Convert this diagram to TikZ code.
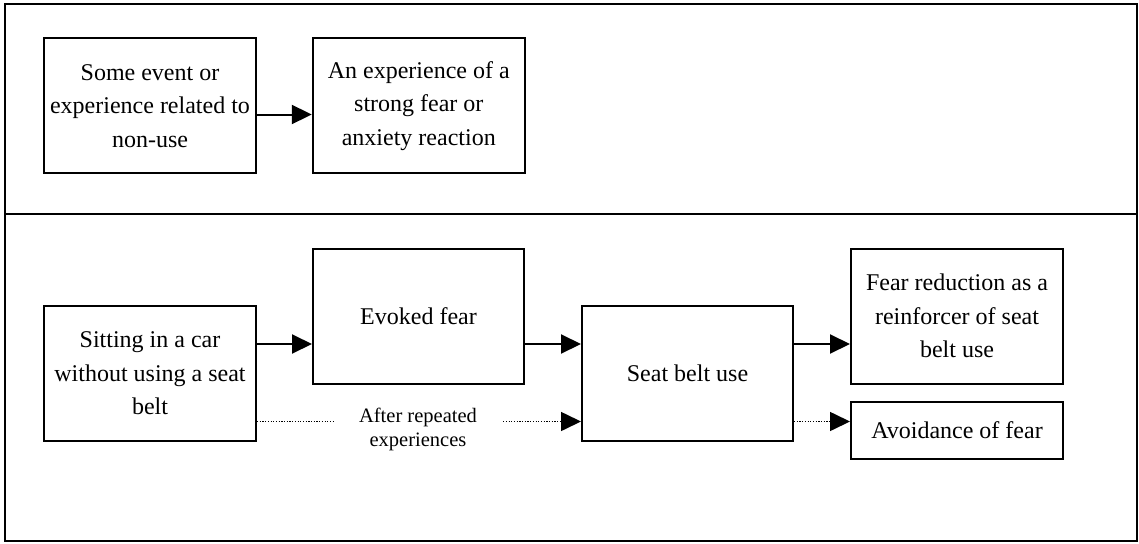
\documentclass[tikz,border=0pt]{standalone}
\usepackage{fontspec}
\setmainfont{Liberation Serif}
\usetikzlibrary{arrows.meta}

\tikzset{
  frameline/.style={line width=2pt},
  stagebox/.style={draw, line width=2pt, align=center, inner sep=0pt,
    font=\fontsize{24}{33.5}\selectfont, minimum width=212pt},
  tallbox/.style={stagebox, minimum height=135pt},
  flatbox/.style={stagebox, minimum height=57pt},
  steparrow/.style={line width=2pt, -{Triangle[length=20pt,width=19pt]}},
  laterline/.style={line width=1.6pt, dash pattern=on 1.2pt off 1.5pt},
  laterarrow/.style={laterline, -{Triangle[length=20pt,width=19pt]}},
  notelabel/.style={align=center, inner xsep=26pt, inner ysep=0pt,
    font=\fontsize{20.5}{24.5}\selectfont}
}

\begin{document}
\begin{tikzpicture}[x=1pt,y=-1pt]
\useasboundingbox (0,0) rectangle (1139,543);

% outer frame split into two panels
\draw[frameline] (5,4) rectangle (1137,541);
\draw[frameline] (5,214) -- (1137,214);

% rows used by the connectors
\coordinate (row0) at (0,114.5);
\coordinate (row1) at (0,344);
\coordinate (row2) at (0,421.5);

% upper panel
\node[tallbox] (event) at (150,105.75) {Some event or\\experience related to\\non-use};
\node[tallbox] (anx) at (418.8,105.75) {An experience of a\\strong fear or\\anxiety reaction};
\draw[steparrow] (event.east |- row0) -- (anx.west |- row0);

% lower panel
\node[tallbox] (sit) at (150,373.5) {Sitting in a car\\without using a seat\\belt};
\node[tallbox, minimum width=211pt] (evk) at (418.5,316) {Evoked fear};
\node[tallbox, minimum width=211pt] (seat) at (687.5,373.5) {Seat belt use};
\node[tallbox] (red) at (957,316) {Fear reduction as a\\reinforcer of seat\\belt use};
\node[flatbox] (avoid) at (957,430.5) {Avoidance of fear};

\draw[steparrow] (sit.east |- row1) -- (evk.west |- row1);
\draw[steparrow] (evk.east |- row1) -- (seat.west |- row1);
\draw[steparrow] (seat.east |- row1) -- (red.west |- row1);

% learned path after repetition
\node[notelabel] (rep) at (418,429.5) {After repeated\\experiences};
\draw[laterline] (sit.east |- row2) -- (rep.west |- row2);
\draw[laterarrow] (rep.east |- row2) -- (seat.west |- row2);
\draw[laterarrow] (seat.east |- row2) -- (avoid.west |- row2);
\end{tikzpicture}
\end{document}
